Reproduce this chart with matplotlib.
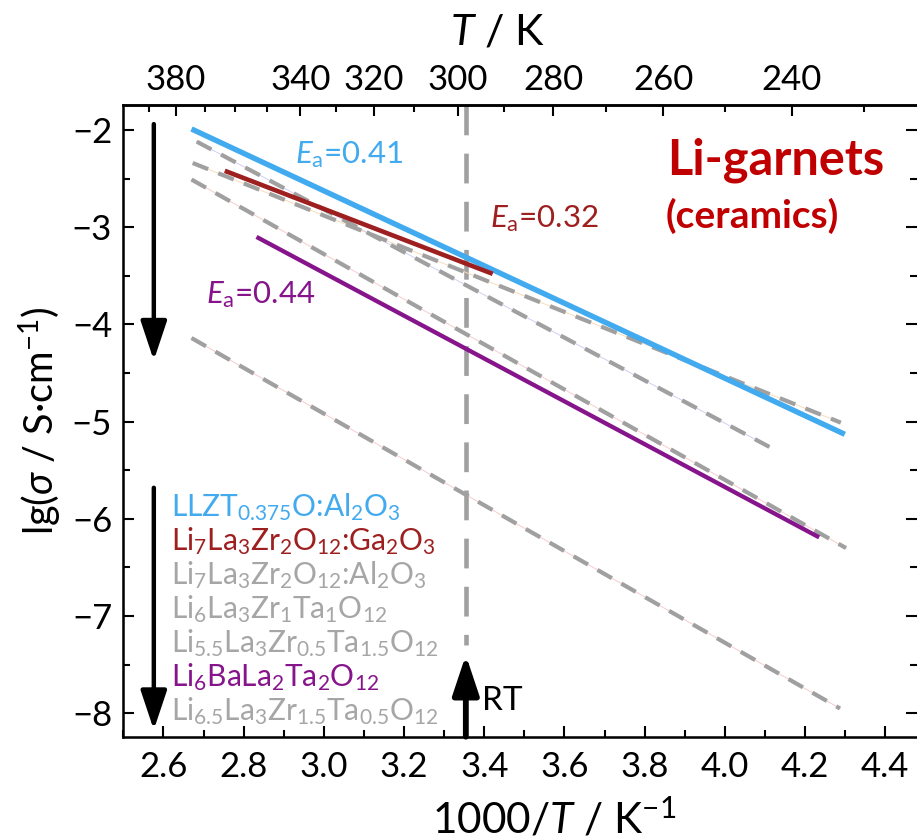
import matplotlib
matplotlib.use("Agg")
import matplotlib.pyplot as plt
from matplotlib.ticker import FixedLocator, MultipleLocator

# ---- data -------------------------------------------------------------
# Arrhenius fits: (1000/T start, 1000/T end) and (lg sigma start, end)
blue_x = [2.670, 4.299]
blue_y = [-1.99, -5.13]
red_x = [2.753, 3.421]
red_y = [-2.42, -3.48]
purple_x = [2.832, 4.235]
purple_y = [-3.10, -6.19]

grey_x = [[2.683, 4.111], [2.673, 4.289], [2.670, 4.302], [2.670, 4.287]]
grey_y = [[-2.12, -5.26], [-2.34, -5.01], [-2.51, -6.30], [-4.14, -7.95]]
grey_under = ['#cfcff5', '#f7dcb8', '#f7cccc', '#f7cccc']

legend_labels = [
    r'$\mathrm{LLZT_{0.375}O}$:$\mathrm{Al_2O_3}$',
    r'$\mathrm{Li_7La_3Zr_2O_{12}}$:$\mathrm{Ga_2O_3}$',
    r'$\mathrm{Li_7La_3Zr_2O_{12}}$:$\mathrm{Al_2O_3}$',
    r'$\mathrm{Li_6La_3Zr_1Ta_1O_{12}}$',
    r'$\mathrm{Li_{5.5}La_3Zr_{0.5}Ta_{1.5}O_{12}}$',
    r'$\mathrm{Li_6BaLa_2Ta_2O_{12}}$',
    r'$\mathrm{Li_{6.5}La_3Zr_{1.5}Ta_{0.5}O_{12}}$',
]

x_ticks = [2.6, 2.8, 3.0, 3.2, 3.4, 3.6, 3.8, 4.0, 4.2, 4.4]
y_ticks = [-2, -3, -4, -5, -6, -7, -8]
T_major = [380, 340, 320, 300, 280, 260, 240]
T_minor = [390, 370, 360, 350, 330, 310, 290, 270, 250, 230]
T_room = 298.15

# ---- colours ----------------------------------------------------------
C_BLUE = '#42aaef'
C_RED = '#9e1f1f'
C_PURPLE = '#86158c'
C_GREY = '#a6a6a6'
C_DASH = '#a0a0a0'
C_TITLE = '#c00000'
legend_colors = [C_BLUE, C_RED, C_GREY, C_GREY, C_GREY, C_PURPLE, C_GREY]

plt.rcParams['font.family'] = ['Lato', 'DejaVu Sans']
plt.rcParams['mathtext.fontset'] = 'custom'
plt.rcParams['mathtext.rm'] = 'Lato'
plt.rcParams['mathtext.it'] = 'Lato:italic'
plt.rcParams['mathtext.bf'] = 'Lato:bold'
plt.rcParams['axes.unicode_minus'] = True

fig = plt.figure(figsize=(9.17, 8.38), dpi=100)
ax = fig.add_axes([0.1345, 0.1209, 0.8655, 0.7542])
ax.set_xlim(2.5, 4.479)
ax.set_ylim(-8.24, -1.74)

# thin guide lines under the dashed fits
for xs, ys, c in zip(grey_x, grey_y, grey_under):
    ax.plot(xs, ys, color=c, lw=0.7, zorder=2)
for xs, ys in zip(grey_x, grey_y):
    ax.plot(xs, ys, color=C_DASH, lw=3.0, dashes=(4.0, 2.6), zorder=3)

ax.plot(blue_x, blue_y, color=C_BLUE, lw=3.9, solid_capstyle='butt', zorder=4)
ax.plot(red_x, red_y, color=C_RED, lw=3.3, solid_capstyle='butt', zorder=5)
ax.plot(purple_x, purple_y, color=C_PURPLE, lw=3.1, solid_capstyle='butt', zorder=5)

# room temperature marker
x_rt = 1000.0 / T_room
ax.plot([x_rt, x_rt], [-1.74, -7.3], color=C_DASH, lw=3.3, dashes=(6.5, 4), zorder=1)
arrow_kw = dict(arrowstyle='-|>,head_length=1.2,head_width=0.4', lw=3.2,
                color='black', shrinkA=0, shrinkB=0, mutation_scale=20)
rt_kw = dict(arrow_kw, lw=4.2)
ax.annotate('', xy=(x_rt, -7.40), xytext=(x_rt, -8.24), arrowprops=rt_kw, zorder=6)
ax.text(3.445, -7.87, 'RT', fontsize=24, ha='center', va='center')

# direction arrows along the legend and the lines
ax.annotate('', xy=(2.576, -4.37), xytext=(2.576, -1.94), arrowprops=arrow_kw, zorder=6)
ax.annotate('', xy=(2.576, -8.17), xytext=(2.576, -5.68), arrowprops=arrow_kw, zorder=6)

# activation energy labels
ax.text(2.928, -2.34, r'$E_\mathrm{a}$=0.41', color=C_BLUE, fontsize=22.5, va='baseline')
ax.text(3.414, -3.005, r'$E_\mathrm{a}$=0.32', color=C_RED, fontsize=22.5, va='baseline')
ax.text(2.706, -3.78, r'$E_\mathrm{a}$=0.44', color=C_PURPLE, fontsize=22.5, va='baseline')

ax.text(3.856, -2.463, 'Li-garnets', color=C_TITLE, fontsize=35, fontweight='bold',
        va='baseline')
ax.text(3.853, -3.01, '(ceramics)', color=C_TITLE, fontsize=28, fontweight='bold',
        va='baseline')

# coloured legend list
y0_px, step_px = 516.0, 34.0
for i, (lab, c) in enumerate(zip(legend_labels, legend_colors)):
    ypx = y0_px + i * step_px
    yd = -2 - (ypx - 130.0) / 97.2
    ax.text(2.620, yd, lab, color=c, fontsize=21.5, va='baseline')

# ---- axes styling -----------------------------------------------------
for s in ['left', 'bottom', 'top']:
    ax.spines[s].set_linewidth(1.8)
ax.spines['right'].set_visible(False)

ax.xaxis.set_major_locator(FixedLocator(x_ticks))
ax.xaxis.set_minor_locator(MultipleLocator(0.1))
ax.yaxis.set_major_locator(FixedLocator(y_ticks))
ax.yaxis.set_minor_locator(MultipleLocator(0.5))
ax.set_xticklabels([f'{v:.1f}' for v in x_ticks])
ax.set_yticklabels([f'\u2212{abs(v)}' for v in y_ticks])
ax.tick_params(axis='both', which='major', direction='in', length=8, width=1.5,
               labelsize=25, right=True, top=False)
ax.tick_params(axis='both', which='minor', direction='in', length=5, width=1.5,
               right=True, top=False)
ax.tick_params(axis='x', which='major', pad=10)
ax.tick_params(axis='y', which='major', pad=8)

ax.set_xlabel('1000/$T$ / K$^{\u2212\\mathrm{1}}$', fontsize=30.5)
ax.xaxis.label.set_va('baseline')
ax.xaxis.set_label_coords(0.5426, -0.152)
ax.set_ylabel('lg($\\sigma$ / S\u00b7cm$^{\u2212\\mathrm{1}}$)', fontsize=28.5, labelpad=6)

ax2 = ax.twiny()
ax2.set_xlim(ax.get_xlim())
ax2.spines['right'].set_visible(False)
ax2.spines['top'].set_linewidth(1.8)
ax2.xaxis.set_major_locator(FixedLocator([1000.0 / t for t in T_major]))
ax2.xaxis.set_minor_locator(FixedLocator([1000.0 / t for t in T_minor]))
ax2.set_xticklabels([str(t) for t in T_major])
ax2.tick_params(axis='x', which='major', direction='in', length=8, width=1.5,
                labelsize=25, pad=6)
ax2.tick_params(axis='x', which='minor', direction='in', length=5, width=1.5)
ax2.set_xlabel('$T$ / K', fontsize=31)
ax2.xaxis.label.set_va('baseline')
ax2.xaxis.set_label_coords(0.472, 1.0945)

fig.savefig('out.png', dpi=100)
